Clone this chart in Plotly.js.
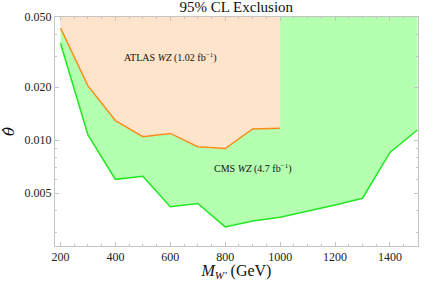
<!DOCTYPE html>
<html>
<head>
<meta charset="utf-8">
<script src="https://cdn.plot.ly/plotly-3.0.1.min.js"></script>
<style>html,body{margin:0;padding:0;background:#fff;}#chart{width:440px;height:281px;}</style>
</head>
<body>
<div id="chart"></div>
<script>
// Data
const massCMS = [200, 300, 400, 500, 600, 700, 800, 900, 1000, 1100, 1200, 1300, 1400, 1500];
const thetaCMS = [0.0355, 0.0107, 0.00598, 0.00622, 0.00418, 0.00436, 0.00321, 0.00347, 0.00364, 0.00393, 0.00428, 0.00467, 0.0085, 0.0114];
const massATLAS = [200, 300, 400, 500, 600, 700, 800, 900, 1000];
const thetaATLAS = [0.0433, 0.0203, 0.0129, 0.01045, 0.0109, 0.00917, 0.00894, 0.01156, 0.01166];
const yTop = 0.05;
const yTickVals = [0.005, 0.01, 0.02, 0.05];
const yTickText = ["0.005", "0.010", "0.020", "0.050"];
const yMinorVals = [0.003, 0.004, 0.006, 0.007, 0.008, 0.009, 0.03, 0.04];

const serif = "Liberation Serif, Times New Roman, serif";
const axisCol = "#c4c4c4";

const traces = [
  {x: massCMS, y: massCMS.map(() => yTop), mode: "lines", line: {width: 0}, hoverinfo: "skip", showlegend: false},
  {x: massCMS, y: thetaCMS, mode: "lines", line: {color: "#22e622", width: 1.5}, fill: "tonexty", fillcolor: "rgb(180,255,176)", showlegend: false},
  {x: massATLAS, y: massATLAS.map(() => yTop), mode: "lines", line: {width: 0}, hoverinfo: "skip", showlegend: false},
  {x: massATLAS, y: thetaATLAS, mode: "lines", line: {color: "#ff8c1a", width: 1.5}, fill: "tonexty", fillcolor: "rgb(255,228,204)", showlegend: false}
];

const layout = {
  width: 440, height: 281,
  margin: {l: 55, r: 22, t: 17, b: 35},
  paper_bgcolor: "#fff", plot_bgcolor: "#fff",
  font: {family: serif, color: "#222", size: 12},
  title: {text: "95% CL Exclusion", font: {family: serif, size: 15, color: "#111"}, x: 0.537, xanchor: "center", y: 0.975, yanchor: "middle", yref: "container"},
  xaxis: {
    range: [180, 1502], showgrid: false, zeroline: false,
    showline: true, linecolor: axisCol, linewidth: 1, mirror: "allticks",
    ticks: "inside", ticklen: 4, tickcolor: axisCol, tick0: 200, dtick: 200,
    minor: {ticks: "inside", ticklen: 2, tickcolor: axisCol, dtick: 50, tick0: 200},
    tickfont: {family: serif, size: 12, color: "#222"},
    title: {text: "<i>M</i><sub><i>W'</i></sub> (GeV)", font: {family: serif, size: 16, color: "#111"}, standoff: 3}
  },
  yaxis: {
    type: "log", range: [Math.log10(0.0025), Math.log10(yTop)], showgrid: false, zeroline: false,
    showline: true, linecolor: axisCol, linewidth: 1, mirror: "allticks",
    ticks: "inside", ticklen: 4, tickcolor: axisCol,
    tickmode: "array", tickvals: yTickVals, ticktext: yTickText,
    minor: {ticks: "inside", ticklen: 2, tickcolor: axisCol, tickmode: "array", tickvals: yMinorVals},
    tickfont: {family: serif, size: 12, color: "#222"},
    title: {text: "<i>θ̂</i>", font: {family: "DejaVu Serif, serif", size: 15, color: "#111"}, standoff: 6}
  },
  annotations: [
    {text: "ATLAS <i>WZ</i> (1.02 fb<sup>−1</sup>)", x: 600, y: Math.log10(0.0295), xref: "x", yref: "y", showarrow: false, font: {family: serif, size: 10, color: "#111"}},
    {text: "CMS <i>WZ</i> (4.7 fb<sup>−1</sup>)", x: 900, y: Math.log10(0.00686), xref: "x", yref: "y", showarrow: false, font: {family: serif, size: 10, color: "#111"}}
  ]
};

Plotly.newPlot("chart", traces, layout, {displayModeBar: false, staticPlot: true});
</script>
</body>
</html>
